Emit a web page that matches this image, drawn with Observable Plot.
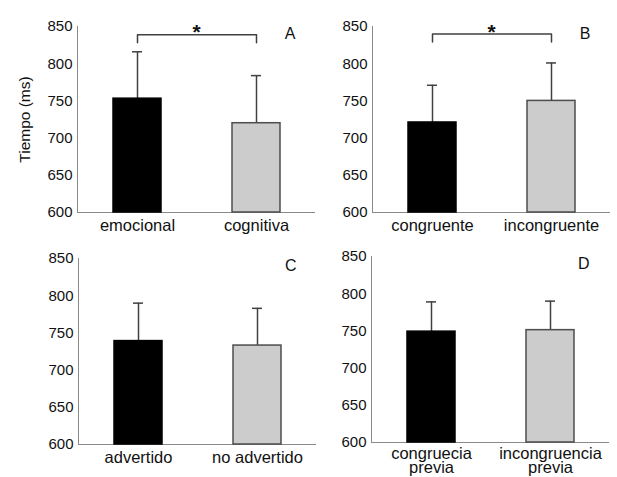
<!DOCTYPE html>
<html><head><meta charset="utf-8">
<script src="https://cdn.jsdelivr.net/npm/d3@7"></script>
<script src="https://cdn.jsdelivr.net/npm/@observablehq/plot@0.6"></script>
<style>
html,body{margin:0;padding:0;background:#fff;}
#wrap{position:relative;width:617px;height:477px;overflow:hidden;font-family:"Liberation Sans",Arial,sans-serif;}
.cell{position:absolute;}
</style></head><body><div id="wrap"></div>
<script>
// ---- data ----
const yTicks = [600, 650, 700, 750, 800, 850];
const yLabel = "Tiempo (ms)";
const barFills = ["#000000", "#cccccc"];
const barStrokes = ["#000000", "#4d4d4d"];

const catsA = ["emocional", "cognitiva"];
const meansA = [753, 720];
const errsA = [63, 64];
const sigA = [828, 839];

const catsB = ["congruente", "incongruente"];
const meansB = [721, 750];
const errsB = [50, 51];
const sigB = [829, 840];

const catsC = ["advertido", "no advertido"];
const meansC = [739, 733];
const errsC = [51, 50];

const catsD = ["congruecia\nprevia", "incongruencia\nprevia"];
const meansD = [749, 751];
const errsD = [40, 39];

const letters = ["A", "B", "C", "D"];

// ---- drawing ----
function panel(cats, means, errs, letter, sig, withLabel, twoLine) {
  const data = cats.map((c, i) => ({cat: c, base: yTicks[0], mean: means[i], up: means[i] + errs[i], fill: barFills[i], stroke: barStrokes[i]}));
  const marks = [
    Plot.frame({anchor: "left", stroke: "#8a8a8a"}),
    Plot.ruleY([yTicks[0]], {stroke: "#8a8a8a"}),
    Plot.ruleX(data, {x: "cat", y1: "mean", y2: "up", stroke: "#404040", strokeWidth: 1.5}),
    Plot.tickY(data, {x: "cat", y: "up", inset: 19, stroke: "#404040", strokeWidth: 1.5}),
    Plot.barY(data, {x: "cat", y1: "base", y2: "mean", fill: "fill", stroke: "stroke", strokeWidth: 1.5}),
    Plot.axisY(yTicks, {tickSize: 0, tickPadding: 5, fontSize: 15, fill: "#111", label: null}),
    Plot.axisX({tickSize: 0, tickPadding: twoLine ? 6 : 8, fontSize: 16.5, lineHeight: 0.86, fill: "#111", label: null}),
    Plot.text([letter], {frameAnchor: "top-right", dx: -20, dy: 7, fontSize: 16, fill: "#111", lineAnchor: "middle"})
  ];
  if (sig) {
    const br = [
      {cat: cats[0], v: sig[0]}, {cat: cats[0], v: sig[1]},
      {cat: cats[1], v: sig[1]}, {cat: cats[1], v: sig[0]}
    ];
    marks.push(Plot.line(br, {x: "cat", y: "v", stroke: "#404040", strokeWidth: 1.5}));
    marks.push(Plot.text(["*"], {frameAnchor: "top", dy: 6, fontSize: 21, fontWeight: "bold", fill: "#111", lineAnchor: "middle"}));
  }
  if (withLabel) {
    marks.push(Plot.text([yLabel], {frameAnchor: "left", dx: -52, rotate: -90, fontSize: 15.5, fill: "#111", textAnchor: "middle", lineAnchor: "middle"}));
  }
  return Plot.plot({
    width: 320, height: 246,
    marginLeft: 77, marginRight: 5, marginTop: 26, marginBottom: 34,
    style: {fontFamily: "'Liberation Sans', Arial, sans-serif", background: "transparent", overflow: "visible"},
    x: {domain: cats, paddingInner: 0.6, paddingOuter: 0.3},
    y: {domain: [yTicks[0], yTicks[yTicks.length - 1]]},
    color: {type: "identity"},
    marks
  });
}

const wrap = document.getElementById("wrap");
const specs = [
  [catsA, meansA, errsA, letters[0], sigA, true, false, 0, 0],
  [catsB, meansB, errsB, letters[1], sigB, false, false, 295, 0],
  [catsC, meansC, errsC, letters[2], null, false, false, 1, 232],
  [catsD, meansD, errsD, letters[3], null, false, true, 294, 230]
];
for (const [c, m, e, l, s, w, t, left, top] of specs) {
  const div = document.createElement("div");
  div.className = "cell";
  div.style.left = left + "px";
  div.style.top = top + "px";
  div.appendChild(panel(c, m, e, l, s, w, t));
  wrap.appendChild(div);
}
</script></body></html>
